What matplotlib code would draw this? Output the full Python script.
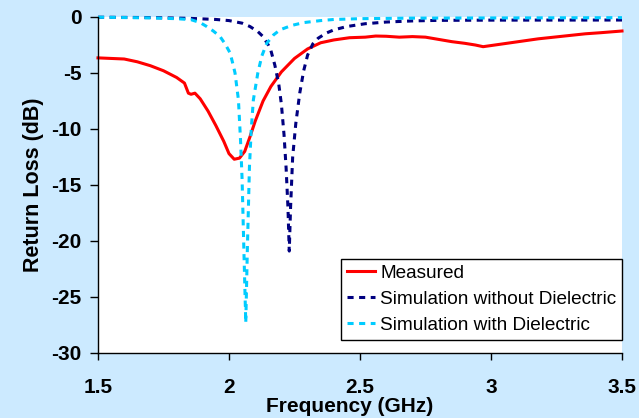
import matplotlib
matplotlib.use('Agg')
import matplotlib.pyplot as plt

plt.rcParams['font.family'] = ['Liberation Sans', 'DejaVu Sans']
plt.rcParams['axes.unicode_minus'] = False

# Measured return loss
freq_meas = [1.50, 1.55, 1.60, 1.65, 1.70, 1.75, 1.80, 1.83, 1.845, 1.855, 1.87, 1.89,
             1.92, 1.95, 1.98, 2.00, 2.02, 2.04, 2.06, 2.08, 2.10, 2.13, 2.16, 2.20,
             2.25, 2.30, 2.35, 2.40, 2.46, 2.52, 2.56, 2.60, 2.65, 2.70, 2.75, 2.80,
             2.85, 2.90, 2.94, 2.97, 3.00, 3.06, 3.12, 3.18, 3.24, 3.30, 3.36, 3.42, 3.50]
rl_meas = [-3.65, -3.70, -3.75, -4.0, -4.35, -4.8, -5.4, -5.9, -6.8, -6.9, -6.8, -7.3,
           -8.4, -9.7, -11.1, -12.2, -12.7, -12.6, -12.0, -10.7, -9.3, -7.5, -6.2, -4.9,
           -3.7, -2.85, -2.3, -2.05, -1.85, -1.8, -1.7, -1.72, -1.8, -1.75, -1.8, -2.0,
           -2.2, -2.35, -2.5, -2.65, -2.55, -2.35, -2.15, -1.95, -1.8, -1.65, -1.5, -1.4, -1.25]

# Simulation without dielectric
freq_sim1 = [1.50, 1.70, 1.85, 1.95, 2.00, 2.05, 2.08, 2.11, 2.13, 2.15, 2.16, 2.175,
             2.19, 2.20, 2.21, 2.218, 2.225, 2.23, 2.235, 2.243, 2.255, 2.27, 2.285,
             2.30, 2.32, 2.34, 2.37, 2.40, 2.45, 2.52, 2.60, 2.70, 2.80, 3.00, 3.50]
rl_sim1 = [-0.02, -0.05, -0.12, -0.22, -0.32, -0.55, -0.85, -1.3, -1.75, -2.5, -3.0, -4.3,
           -6.0, -7.8, -10.5, -13.5, -17.0, -20.9, -17.0, -12.5, -9.5, -6.8, -4.8,
           -3.4, -2.4, -1.9, -1.45, -1.15, -0.85, -0.6, -0.45, -0.35, -0.3, -0.28, -0.27]

# Simulation with dielectric
freq_sim2 = [1.50, 1.70, 1.80, 1.855, 1.89, 1.915, 1.94, 1.966, 1.985, 2.004, 2.015,
             2.023, 2.036, 2.044, 2.05, 2.057, 2.064, 2.07, 2.078, 2.085, 2.093, 2.11,
             2.125, 2.144, 2.17, 2.195, 2.24, 2.285, 2.35, 2.40, 2.50, 2.70, 3.50]
rl_sim2 = [-0.02, -0.08, -0.15, -0.24, -0.5, -0.85, -1.25, -1.75, -2.4, -3.2, -4.2,
           -5.0, -7.4, -11.0, -14.5, -21.0, -27.3, -20.8, -13.4, -10.0, -7.4, -5.0,
           -3.5, -2.35, -1.6, -1.14, -0.75, -0.5, -0.32, -0.22, -0.15, -0.1, -0.06]

xticks = [1.5, 2, 2.5, 3, 3.5]
xtick_labels = ['1.5', '2', '2.5', '3', '3.5']
yticks = [0, -5, -10, -15, -20, -25, -30]

bg = '#cceaff'
fig = plt.figure(figsize=(6.39, 4.18), dpi=100, facecolor=bg)
ax = fig.add_axes([98 / 639, 1 - 353 / 418, 524 / 639, 336 / 418])
ax.set_facecolor('white')

ax.plot(freq_meas, rl_meas, color='#ff0000', lw=2.2, label='Measured', clip_on=False)
ax.plot(freq_sim1, rl_sim1, color='#000080', lw=2.2, ls=(0, (2.0, 1.8)),
        label='Simulation without Dielectric', clip_on=False)
ax.plot(freq_sim2, rl_sim2, color='#00ccff', lw=2.2, ls=(0, (2.0, 1.8)),
        label='Simulation with Dielectric', clip_on=False)

ax.set_xlim(1.5, 3.5)
ax.set_ylim(-30, 0)
ax.set_xticks(xticks)
ax.set_xticklabels(xtick_labels)
ax.set_yticks(yticks)
ax.spines['top'].set_visible(False)
ax.spines['right'].set_visible(False)
for s in ('left', 'bottom'):
    ax.spines[s].set_linewidth(1.0)
ax.tick_params(axis='y', length=6, width=1, pad=6, labelsize=15)
ax.tick_params(axis='x', length=5, width=1, pad=13, labelsize=15)
for lab in ax.get_xticklabels() + ax.get_yticklabels():
    lab.set_fontweight('bold')

ax.set_xlabel('Frequency (GHz)', fontsize=15, fontweight='bold')
ax.set_ylabel('Return Loss (dB)', fontsize=15.5, fontweight='bold')
ax.xaxis.set_label_coords(0.48, -0.13)
ax.yaxis.set_label_coords(-0.103, 0.5)

leg = ax.legend(loc='lower right', bbox_to_anchor=(1.0, 0.04), fontsize=13.7,
                frameon=True, fancybox=False, framealpha=1, edgecolor='black',
                handlelength=1.5, handletextpad=0.25, labelspacing=0.45,
                borderpad=0.3, borderaxespad=0)
leg.get_frame().set_linewidth(1.0)

fig.savefig('out.png', dpi=100, facecolor=bg)
